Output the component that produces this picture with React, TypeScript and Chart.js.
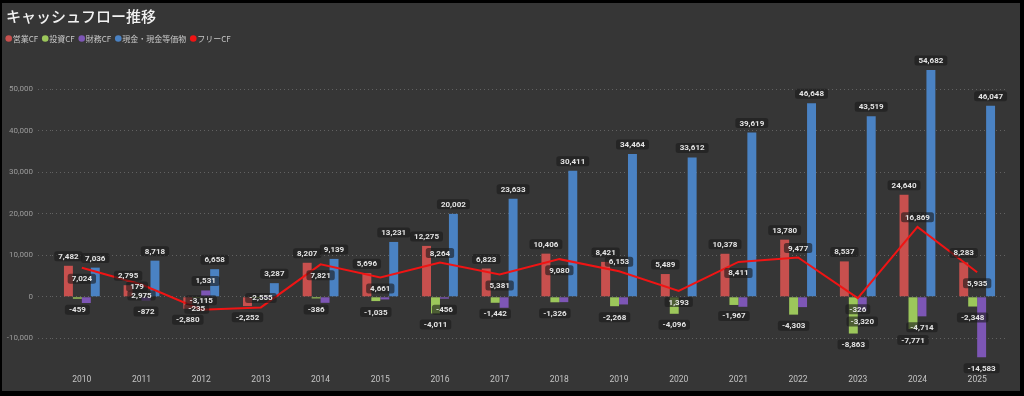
import React, { useEffect, useRef } from "react";
import { Chart, registerables } from "chart.js";

Chart.register(...registerables);

const years = ["2010", "2011", "2012", "2013", "2014", "2015", "2016", "2017", "2018", "2019", "2020", "2021", "2022", "2023", "2024", "2025"];
const operatingCF = [7482, 2795, -2880, -2252, 8207, 5696, 12275, 6823, 10406, 8421, 5489, 10378, 13780, 8537, 24640, 8283];
const investingCF = [-459, 179, -235, -303, -386, -1035, -4011, -1442, -1326, -2268, -4096, -1967, -4303, -8863, -7771, -2348];
const financingCF = [-1500, -872, 1531, -285, -1450, -640, -456, -2650, -1290, -1850, -60, -2410, -2490, -3320, -4714, -14583];
const cashEquivalents = [7036, 8718, 6658, 3287, 9139, 13231, 20002, 23633, 30411, 34464, 33612, 39619, 46648, 43519, 54682, 46047];
const freeCF = [7024, 2975, -3115, -2555, 7821, 4661, 8264, 5381, 9080, 6153, 1393, 8411, 9477, -326, 16869, 5935];
const yTickValues = [-10000, 0, 10000, 20000, 30000, 40000, 50000];
const freeLabelSide = ["below", "below", "above", "above", "below", "below", "above", "below", "below", "above", "below", "below", "above", "below", "above", "below"];

const seriesNames = ["営業CF", "投資CF", "財務CF", "現金・現金等価物", "フリーCF"];
const seriesColors = ["#C8504E", "#9CC75B", "#7D56B5", "#4A82C3", "#F01414"];

const fmt = (v: number) => v.toLocaleString("en-US");

const backgroundPlugin = {
  id: "panelBg",
  beforeDraw(chart: any) {
    const ctx = chart.ctx;
    ctx.save();
    ctx.fillStyle = "#000";
    ctx.fillRect(0, 0, chart.width, chart.height);
    ctx.fillStyle = "#363636";
    ctx.fillRect(2, 3, chart.width - 6, chart.height - 8);
    ctx.restore();
  },
};

const legendPlugin = {
  id: "customLegend",
  afterDraw(chart: any) {
    const ctx = chart.ctx;
    ctx.save();
    ctx.font = "8px 'Noto Sans CJK JP'";
    ctx.textBaseline = "middle";
    ctx.textAlign = "left";
    let cx = 8.7;
    const cy = 38.5;
    seriesNames.forEach((name, i) => {
      ctx.fillStyle = seriesColors[i];
      ctx.beginPath();
      ctx.arc(cx, cy, 3.3, 0, Math.PI * 2);
      ctx.fill();
      ctx.fillStyle = "#c8c8c8";
      const tx = cx + 4;
      ctx.fillText(name, tx, cy);
      cx = tx + ctx.measureText(name).width + 7;
    });
    ctx.restore();
  },
};

type Box = { x1: number; x2: number; y1: number; y2: number; text: string; cx: number; cy: number };

const valueLabelPlugin = {
  id: "valueLabels",
  afterDatasetsDraw(chart: any) {
    const ctx = chart.ctx;
    ctx.save();
    ctx.font = "bold 8px Roboto";
    const H = 10;
    const PADX = 4;
    const S = 0.8;
    const placed: Box[] = [];
    const makeBox = (text: string, cx: number, cy: number): Box => {
      const w = ctx.measureText(text).width + PADX * 2;
      return { x1: cx - w / 2, x2: cx + w / 2, y1: cy - H / 2, y2: cy + H / 2, text, cx, cy };
    };
    const collides = (b: Box) =>
      placed.some(
        (p) => b.x1 + S < p.x2 - S && b.x2 - S > p.x1 + S && b.y1 + S < p.y2 - S && b.y2 - S > p.y1 + S
      );

    const lineMeta = chart.getDatasetMeta(0);
    lineMeta.data.forEach((pt: any, i: number) => {
      const v = freeCF[i];
      const cy = freeLabelSide[i] === "above" ? pt.y - 9.5 : pt.y + 11;
      placed.push(makeBox(fmt(v), pt.x, cy));
    });

    const barSeries = [operatingCF, investingCF, financingCF, cashEquivalents];
    barSeries.forEach((arr, k) => {
      const meta = chart.getDatasetMeta(k + 1);
      meta.data.forEach((bar: any, i: number) => {
        const v = arr[i];
        const cy = v >= 0 ? bar.y - 9.5 : bar.y + 11;
        const b = makeBox(fmt(v), bar.x, cy);
        if (!collides(b)) placed.push(b);
      });
    });

    placed.forEach((b) => {
      ctx.fillStyle = "rgba(28,28,28,0.62)";
      ctx.beginPath();
      (ctx as any).roundRect(b.x1, b.y1, b.x2 - b.x1, b.y2 - b.y1, 2.5);
      ctx.fill();
    });
    ctx.fillStyle = "#e4e4e4";
    ctx.textAlign = "center";
    ctx.textBaseline = "middle";
    placed.forEach((b) => {
      ctx.fillText(b.text, b.cx, b.cy + 0.5);
    });
    ctx.restore();
  },
};

export default function App() {
  const canvasRef = useRef<HTMLCanvasElement | null>(null);

  useEffect(() => {
    if (!canvasRef.current) return;
    const gridColor = "rgba(255,255,255,0.22)";
    const chart = new Chart(canvasRef.current, {
      type: "bar",
      data: {
        labels: years,
        datasets: [
          {
            type: "line",
            label: seriesNames[4],
            data: freeCF,
            borderColor: seriesColors[4],
            backgroundColor: seriesColors[4],
            borderWidth: 2,
            pointRadius: 0,
            tension: 0,
            order: 0,
          } as any,
          { label: seriesNames[0], data: operatingCF, backgroundColor: seriesColors[0], order: 1 },
          { label: seriesNames[1], data: investingCF, backgroundColor: seriesColors[1], order: 1 },
          { label: seriesNames[2], data: financingCF, backgroundColor: seriesColors[2], order: 1 },
          { label: seriesNames[3], data: cashEquivalents, backgroundColor: seriesColors[3], order: 1 },
        ],
      },
      options: {
        responsive: false,
        animation: false,
        devicePixelRatio: 1,
        datasets: {
          bar: { categoryPercentage: 0.6, barPercentage: 1.0 },
        },
        layout: { padding: { left: 6, right: 17, top: 3, bottom: 10 } },
        plugins: {
          legend: { display: false },
          tooltip: { enabled: false },
          title: {
            display: true,
            text: "キャッシュフロー推移",
            align: "start",
            color: "#f2f2f2",
            font: { family: "'Noto Sans CJK JP'", size: 15, weight: "500" },
            padding: { top: 4.5, bottom: 22.5 },
          },
        },
        scales: {
          x: {
            offset: true,
            grid: { display: false, drawTicks: false },
            border: { display: false },
            ticks: {
              color: "#c4c4c4",
              font: { family: "Roboto", size: 8.5 },
              padding: 16,
              maxRotation: 0,
            },
            afterFit: (scale: any) => {
              scale.height = 27;
            },
          },
          y: {
            min: -15000,
            max: 60000,
            afterBuildTicks: (scale: any) => {
              scale.ticks = yTickValues.map((v) => ({ value: v }));
            },
            afterFit: (scale: any) => {
              scale.width = 46;
            },
            grid: {
              color: gridColor,
              drawTicks: true,
              tickLength: 14,
              tickColor: gridColor,
              tickBorderDash: [1, 3],
            } as any,
            border: { display: false, dash: [1, 3] },
            ticks: {
              color: "#9c9c9c",
              font: { family: "Roboto", size: 8 },
              padding: 5,
              callback: (v: any) => fmt(Number(v)),
            },
          },
        },
      } as any,
      plugins: [backgroundPlugin, legendPlugin, valueLabelPlugin],
    });
    return () => chart.destroy();
  }, []);

  return (
    <div style={{ position: "fixed", left: 0, top: 0, width: 1024, height: 396 }}>
      <canvas ref={canvasRef} width={1024} height={396} style={{ width: 1024, height: 396, display: "block" }} />
    </div>
  );
}
